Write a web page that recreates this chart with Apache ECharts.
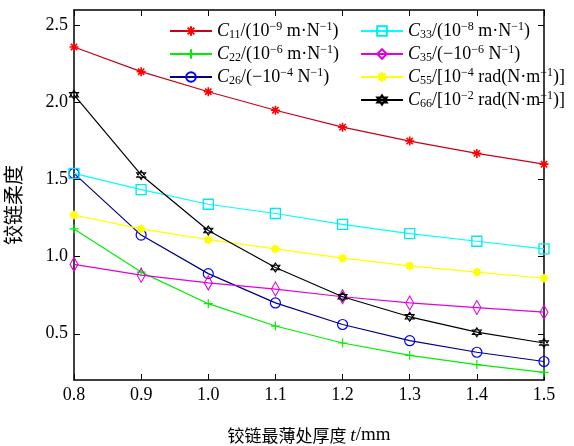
<!DOCTYPE html>
<html><head><meta charset="utf-8">
<script src="https://cdn.jsdelivr.net/npm/echarts@6/dist/echarts.min.js"></script>
<style>html,body{margin:0;padding:0;background:#fff}#c{width:574px;height:446px}</style>
</head><body><div id="c"></div>
<script>
const xValues = [0.8, 0.9, 1.0, 1.1, 1.2, 1.3, 1.4, 1.5];
const C11 = [2.36, 2.20, 2.07, 1.95, 1.84, 1.75, 1.67, 1.60];
const C22 = [1.18, 0.90, 0.695, 0.55, 0.44, 0.36, 0.30, 0.25];
const C26 = [1.54, 1.14, 0.89, 0.70, 0.56, 0.455, 0.38, 0.32];
const C33 = [1.54, 1.435, 1.34, 1.28, 1.21, 1.15, 1.10, 1.05];
const C35 = [0.95, 0.88, 0.83, 0.79, 0.74, 0.70, 0.67, 0.64];
const C55 = [1.27, 1.18, 1.11, 1.05, 0.99, 0.94, 0.90, 0.86];
const C66 = [2.05, 1.53, 1.17, 0.93, 0.74, 0.61, 0.51, 0.44];
const yTicks = [0.5, 1.0, 1.5, 2.0, 2.5];

const labels = {
  C11: '{i|C}{sb|11}{n|/(10}{sp|−9}{n| m·N}{sp|−1}{n|)}',
  C22: '{i|C}{sb|22}{n|/(10}{sp|−6}{n| m·N}{sp|−1}{n|)}',
  C26: '{i|C}{sb|26}{n|/(−10}{sp|−4}{n| N}{sp|−1}{n|)}',
  C33: '{i|C}{sb|33}{n|/(10}{sp|−8}{n| m·N}{sp|−1}{n|)}',
  C35: '{i|C}{sb|35}{n|/(−10}{sp|−6}{n| N}{sp|−1}{n|)}',
  C55: '{i|C}{sb|55}{n|/[10}{sp|−4}{n| rad(N·m}{sp|−1}{n|)]}',
  C66: '{i|C}{sb|66}{n|/[10}{sp|−2}{n| rad(N·m}{sp|−1}{n|)]}'
};
const serif = 'Liberation Serif';
const rich = {
  i: {fontFamily: serif, fontStyle: 'italic', fontSize: 18, lineHeight: 20, verticalAlign: 'middle', color: '#000'},
  n: {fontFamily: serif, fontSize: 18, lineHeight: 20, verticalAlign: 'middle', color: '#000'},
  sp: {fontFamily: serif, fontSize: 12, lineHeight: 12, verticalAlign: 'top', color: '#000'},
  sb: {fontFamily: serif, fontSize: 12, lineHeight: 10, verticalAlign: 'bottom', color: '#000'}
};

const asterisk = 'path://M0,-10L0,10M-10,0L10,0M-7,-7L7,7M-7,7L7,-7';
const plus = 'path://M0,-10L0,10M-10,0L10,0';
const diamond = 'path://M0,-10L5,0L0,10L-5,0Z';
const hexagram = 'path://M0,-10L8.66,5L-8.66,5Z M0,10L8.66,-5L-8.66,-5Z';
const blob = 'path://M-4,-4L4,-4L4,4L-4,4Z M0,-7L0,7M-7,0L7,0';
const T = 'rgba(0,0,0,0)';

function pts(arr){ return xValues.map((x,i)=>[x,arr[i]]); }
function mk(name, data, lineColor, symbol, size, fill, border, bw){
  return {name, type:'line', data: pts(data), symbol, symbolSize: size,
    lineStyle:{color: lineColor, width: 1.2},
    itemStyle:{color: fill, borderColor: border, borderWidth: bw},
    emphasis:{disabled:true}, animation:false, z: 3};
}
const series = [
  mk('C11', C11, '#c8001e', asterisk, 9, T, '#ff0000', 1.6),
  mk('C22', C22, '#00ee00', plus, 9, T, '#00ee00', 1.2),
  mk('C26', C26, '#000080', 'circle', 10, T, '#0000ff', 1.2),
  mk('C33', C33, '#00ffff', 'rect', 10, T, '#00e8f0', 1.3),
  mk('C35', C35, '#e000e0', diamond, [8,14], T, '#e000e0', 1.1),
  mk('C55', C55, '#ffff00', blob, 9, '#ffff00', '#ffff00', 1.5),
  mk('C66', C66, '#000000', hexagram, 9, T, '#000000', 1.1)
];

const legendBase = {orient:'vertical', itemWidth:42, itemHeight:12, itemGap:3,
  formatter: n => labels[n], textStyle:{rich}, selectedMode:false};

const chart = echarts.init(document.getElementById('c'));
chart.setOption({
  backgroundColor:'#fff',
  animation:false,
  grid:{left:74, right:30, top:10, bottom:66, outerBoundsMode:'none', containLabel:false},
  legend:[
    Object.assign({}, legendBase, {data:['C11','C22','C26'], left:164, top:16}),
    Object.assign({}, legendBase, {data:['C33','C35','C55','C66'], left:355, top:16})
  ],
  xAxis:[{
    type:'value', min:0.8, max:1.5, interval:0.1,
    axisLine:{lineStyle:{color:'#000', width:1.5}},
    axisTick:{inside:true, length:6, lineStyle:{color:'#000'}},
    axisLabel:{fontFamily:serif, fontSize:18, color:'#000', margin:6, formatter:v=>v.toFixed(1)},
    splitLine:{show:false},
    name:'{c|铰链最薄处厚度 }{t|t}{m|/mm}', nameLocation:'middle', nameGap:46, nameMoveOverlap:false,
    nameTextStyle:{rich:{
      c:{fontFamily:'Noto Sans CJK SC', fontSize:17, color:'#000'},
      t:{fontFamily:serif, fontStyle:'italic', fontSize:19, color:'#000'},
      m:{fontFamily:serif, fontSize:19, color:'#000'}}}
  },{
    type:'value', min:0.8, max:1.5, interval:0.1, position:'top',
    axisLine:{show:true, lineStyle:{color:'#000', width:1.5}},
    axisTick:{show:true, inside:true, length:6, lineStyle:{color:'#000'}},
    axisLabel:{show:false}, splitLine:{show:false}
  }],
  yAxis:[{
    type:'value', min:0.2, max:2.6,
    axisLine:{show:true, lineStyle:{color:'#000', width:1.5}},
    axisTick:{show:true, inside:true, length:6, customValues:yTicks, lineStyle:{color:'#000'}},
    axisLabel:{fontFamily:serif, fontSize:18, color:'#000', margin:6, customValues:yTicks, formatter:v=>v.toFixed(1)},
    splitLine:{show:false},
    name:'铰链柔度', nameLocation:'middle', nameGap:51, nameMoveOverlap:false,
    nameTextStyle:{fontFamily:'Noto Sans CJK SC', fontSize:20, color:'#000', padding:[0,20,0,0]}
  },{
    type:'value', min:0.2, max:2.6, position:'right',
    axisLine:{show:true, lineStyle:{color:'#000', width:1.5}},
    axisTick:{show:true, inside:true, length:6, customValues:yTicks, lineStyle:{color:'#000'}},
    axisLabel:{show:false}, splitLine:{show:false}
  }],
  series
});
</script></body></html>
